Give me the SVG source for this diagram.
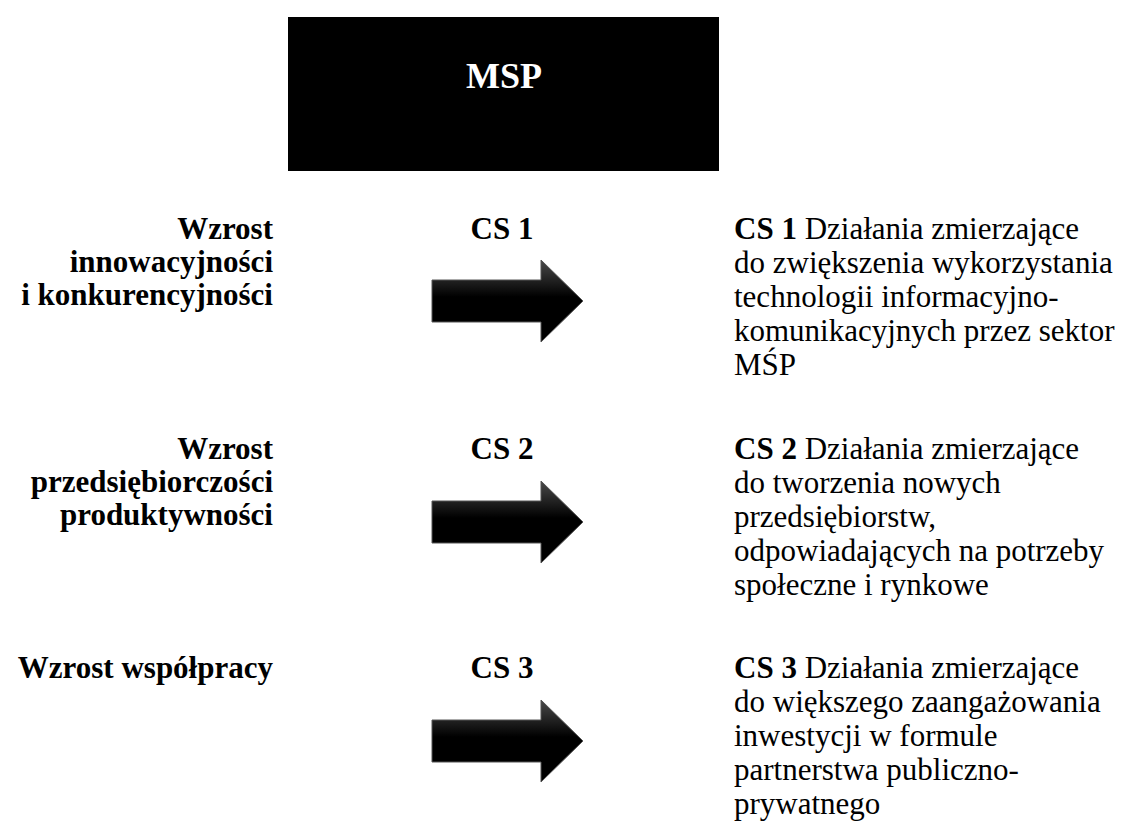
<svg xmlns="http://www.w3.org/2000/svg" width="1131" height="832" viewBox="0 0 1131 832">
<style>
text{font-family:"Liberation Serif","Times New Roman",serif;font-size:31px;fill:#000}
.b{font-weight:bold}
.lab{font-weight:bold;text-anchor:end}
.cs{font-weight:bold;text-anchor:middle}
.arrow{fill:url(#ag);stroke:#555;stroke-width:1}
</style>
<defs>
<linearGradient id="ag" x1="0" y1="0" x2="0" y2="1">
<stop offset="0" stop-color="#4a4a4a"/>
<stop offset="0.45" stop-color="#000"/>
<stop offset="1" stop-color="#000"/>
</linearGradient>
</defs>
<rect width="1131" height="832" fill="#fff"/>
<g id="msp">
<rect x="288" y="17" width="431" height="154" fill="#000"/>
<text x="504" y="88" class="b" style="font-size:36px;fill:#fff;text-anchor:middle">MSP</text>
</g>
<g id="label1">
<text class="lab" x="273" y="239">Wzrost</text>
<text class="lab" x="273" y="272">innowacyjności</text>
<text class="lab" x="273" y="305">i konkurencyjności</text>
</g>
<g id="label2">
<text class="lab" x="273" y="459">Wzrost</text>
<text class="lab" x="273" y="492">przedsiębiorczości</text>
<text class="lab" x="273" y="525">produktywności</text>
</g>
<g id="label3">
<text class="lab" x="273" y="678">Wzrost współpracy</text>
</g>
<g id="cs1"><text class="cs" x="502" y="239">CS 1</text></g>
<g id="cs2"><text class="cs" x="502" y="459">CS 2</text></g>
<g id="cs3"><text class="cs" x="502" y="678">CS 3</text></g>
<g id="connectors">
<path class="arrow" d="M432 280 H541 V260 L583 301 L541 342 V322 H432 Z"/>
<path class="arrow" d="M432 501 H541 V481 L583 522 L541 563 V543 H432 Z"/>
<path class="arrow" d="M432 720 H541 V700 L583 741 L541 782 V762 H432 Z"/>
</g>
<g id="desc1">
<text x="734" y="239"><tspan class="b">CS 1</tspan> Działania zmierzające</text>
<text x="734" y="273">do zwiększenia wykorzystania</text>
<text x="734" y="307">technologii informacyjno-</text>
<text x="734" y="341">komunikacyjnych przez sektor</text>
<text x="734" y="375">MŚP</text>
</g>
<g id="desc2">
<text x="734" y="459"><tspan class="b">CS 2</tspan> Działania zmierzające</text>
<text x="734" y="493">do tworzenia nowych</text>
<text x="734" y="527">przedsiębiorstw,</text>
<text x="734" y="561">odpowiadających na potrzeby</text>
<text x="734" y="595">społeczne i rynkowe</text>
</g>
<g id="desc3">
<text x="734" y="678"><tspan class="b">CS 3</tspan> Działania zmierzające</text>
<text x="734" y="712">do większego zaangażowania</text>
<text x="734" y="746">inwestycji w formule</text>
<text x="734" y="780">partnerstwa publiczno-</text>
<text x="734" y="814">prywatnego</text>
</g>
</svg>
